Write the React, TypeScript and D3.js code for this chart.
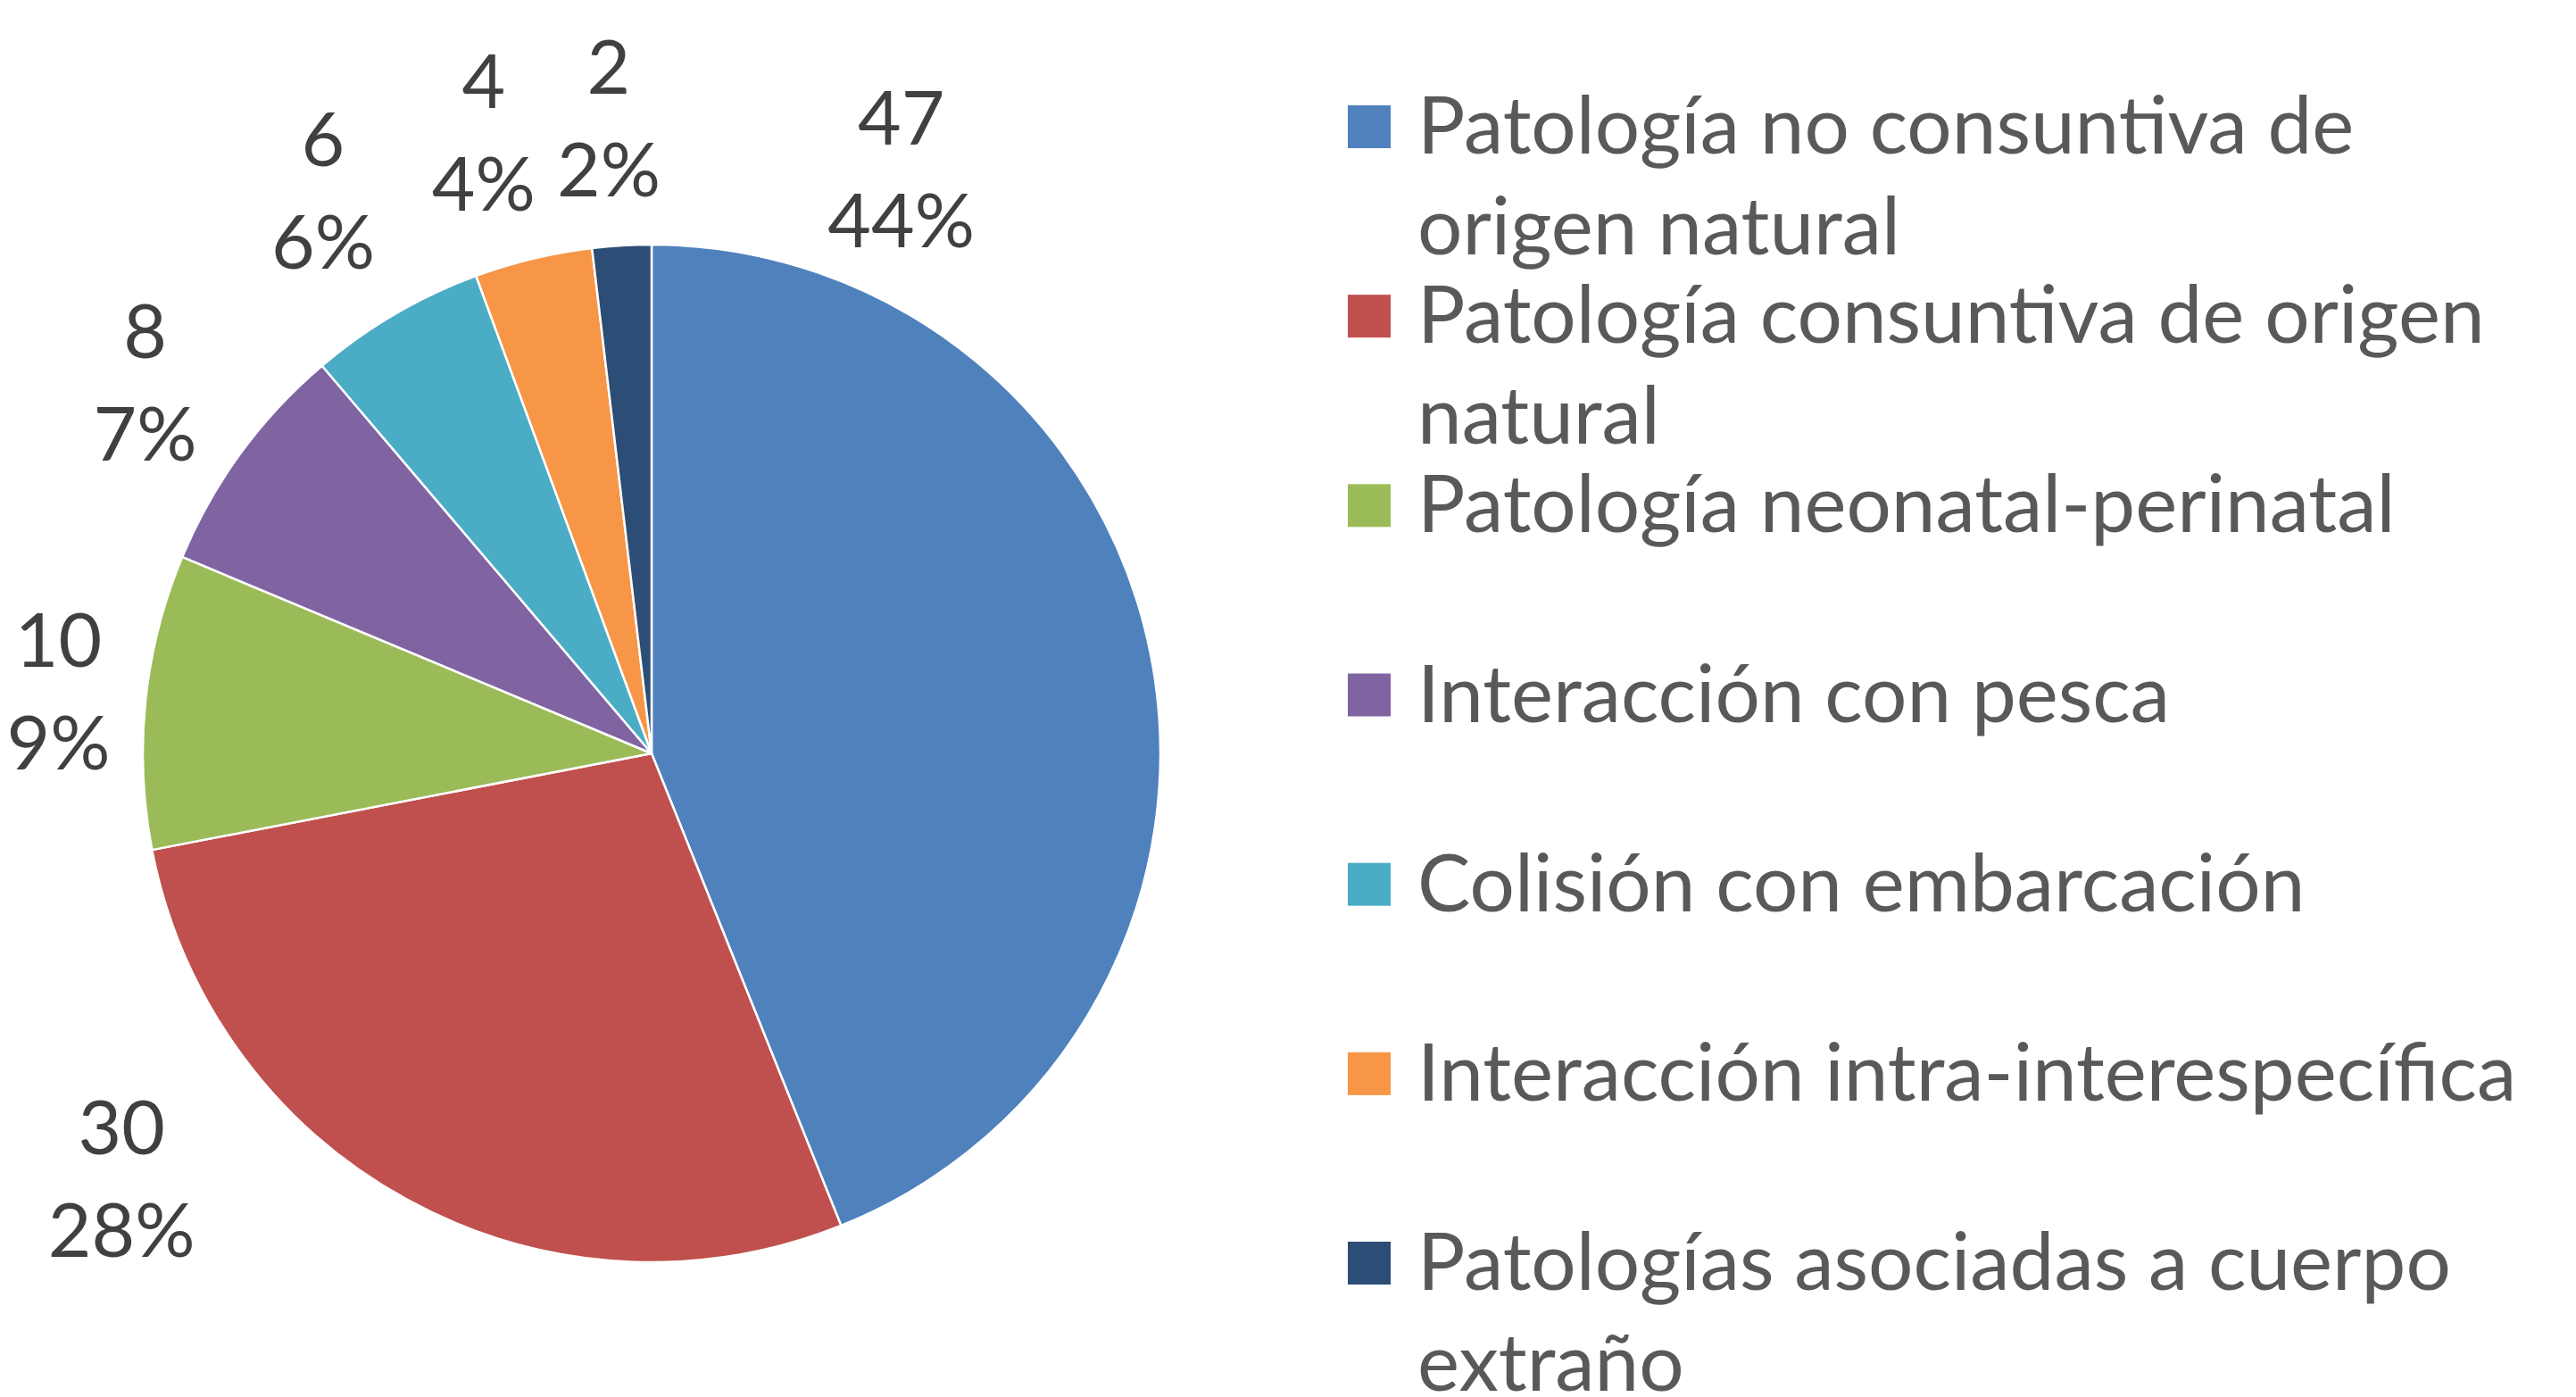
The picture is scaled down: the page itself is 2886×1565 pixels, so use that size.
import * as d3 from "d3";
import React from "react";

// slice categories as shown in the legend (wrapped the same way)
const categories = [
  "Patología no consuntiva de origen natural",
  "Patología consuntiva de origen natural",
  "Patología neonatal-perinatal",
  "Interacción con pesca",
  "Colisión con embarcación",
  "Interacción intra-interespecífica",
  "Patologías asociadas a cuerpo extraño",
];
const legendLines = [
  ["Patología no consuntiva de", "origen natural"],
  ["Patología consuntiva de origen", "natural"],
  ["Patología neonatal-perinatal"],
  ["Interacción con pesca"],
  ["Colisión con embarcación"],
  ["Interacción intra-interespecífica"],
  ["Patologías asociadas a cuerpo", "extraño"],
];
const counts = [47, 30, 10, 8, 6, 4, 2];
const colors = ["#4F81BD", "#C0504D", "#9BBB59", "#8064A2", "#4BACC6", "#F79646", "#2C4D75"];

// label placement (best-fit style): distance from centre and angular shift in degrees
const labelDist = [711, 762, 668, 703, 730, 720, 713];
const labelShift = [-55.9, 22.6, 0, 0, 0, -1.7, -0.5];

const width = 2886;
const height = 1565;
const cx = 730;
const cy = 844;
const radius = 570;
const font = "Lato, 'Open Sans', sans-serif";

export default function App() {
  const total = d3.sum(counts);
  const pie = d3.pie<number>().sort(null).value((d) => d);
  const arcs = pie(counts);
  const arc = d3.arc<d3.PieArcDatum<number>>().innerRadius(0).outerRadius(radius);

  const legendY = d3.scalePoint<number>()
    .domain(d3.range(categories.length))
    .range([142, 1415]);

  return (
    <svg width={width} height={height} style={{ position: "absolute", left: 0, top: 0, background: "#fff" }}>
      <g transform={`translate(${cx},${cy})`}>
        {arcs.map((a, i) => (
          <path key={i} d={arc(a) || ""} fill={colors[i]} stroke="#fff" strokeWidth={2.5} strokeLinejoin="round" />
        ))}
        {arcs.map((a, i) => {
          const ang = (a.startAngle + a.endAngle) / 2 + (labelShift[i] * Math.PI) / 180;
          const x = Math.sin(ang) * labelDist[i];
          const y = -Math.cos(ang) * labelDist[i];
          return (
            <text key={i} x={x} textAnchor="middle" fontFamily={font} fontSize={84} fill="#404040">
              <tspan x={x} y={y - 28}>{counts[i]}</tspan>
              <tspan x={x} y={y + 87}>{Math.round((counts[i] / total) * 100)}%</tspan>
            </text>
          );
        })}
      </g>
      <g>
        {categories.map((c, i) => {
          const y = legendY(i) as number;
          return (
            <g key={c}>
              <rect x={1510} y={y - 24} width={48} height={48} fill={colors[i]} />
              <text fontFamily={font} fontSize={89} fill="#595959">
                {legendLines[i].map((ln, j) => (
                  <tspan key={j} x={1588} y={y + 30 + j * 113}>{ln}</tspan>
                ))}
              </text>
            </g>
          );
        })}
      </g>
    </svg>
  );
}
